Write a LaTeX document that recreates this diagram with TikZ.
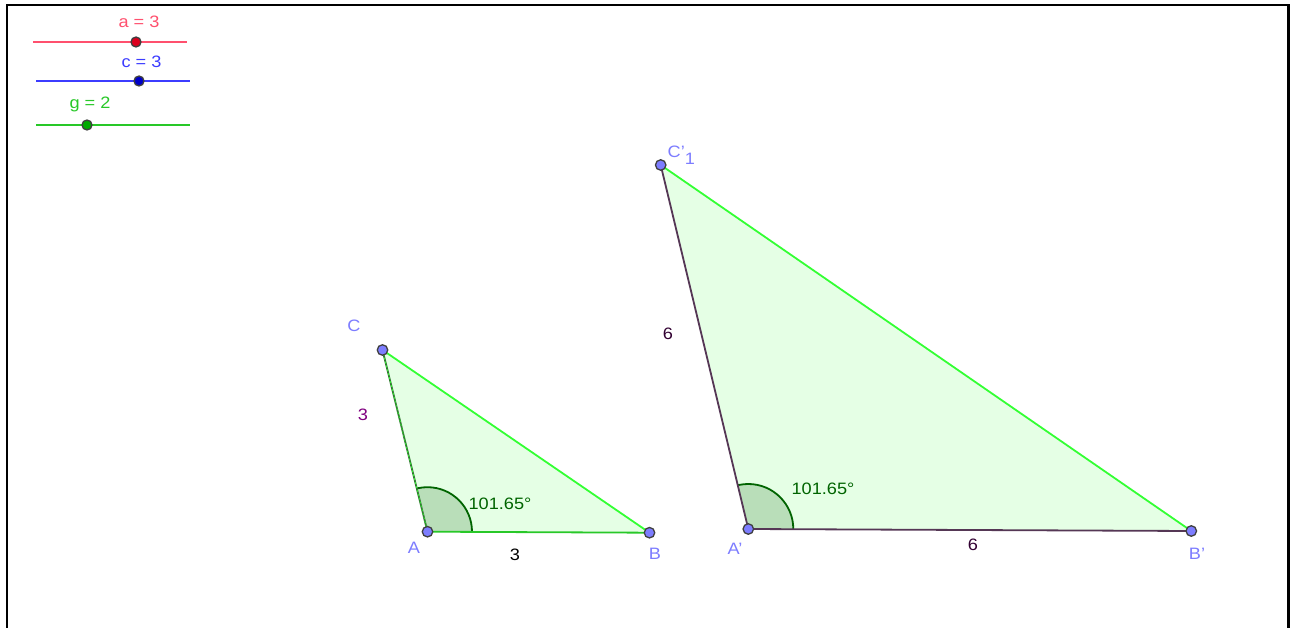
\documentclass[tikz,border=0pt]{standalone}
\usepackage{fontspec}
\setmainfont{Liberation Sans}[FakeStretch=1.1]
\definecolor{ptfill}{RGB}{125,125,255}
\definecolor{lbl}{RGB}{125,125,255}
\definecolor{trifill}{RGB}{229,255,229}
\definecolor{brightgreen}{RGB}{51,255,51}
\definecolor{midgreen}{RGB}{40,200,40}
\definecolor{darkgreenedge}{RGB}{50,120,50}
\definecolor{purpleedge}{RGB}{85,55,85}
\definecolor{sectorfill}{RGB}{185,222,185}
\definecolor{anglegreen}{RGB}{0,100,0}
\definecolor{slidered}{RGB}{255,80,110}
\definecolor{sliderredpt}{RGB}{220,0,30}
\definecolor{sliderblue}{RGB}{60,60,255}
\definecolor{sliderbluept}{RGB}{0,0,200}
\definecolor{slidergreen}{RGB}{40,200,40}
\definecolor{slidergreenpt}{RGB}{0,170,0}
\definecolor{labelpurple}{RGB}{128,0,128}
\definecolor{labeldark}{RGB}{50,0,50}
\begin{document}
\begin{tikzpicture}[x=1pt,y=-1pt,
  pt/.style={circle,inner sep=0pt,minimum size=10.5pt,fill=ptfill,draw=black!75,line width=1.3pt},
  spt/.style={circle,inner sep=0pt,minimum size=10pt,draw=black!75,line width=1.3pt},
  lab/.style={text=lbl,font=\fontsize{16.5}{18}\selectfont,inner sep=0pt},
  txt/.style={font=\fontsize{16.5}{18}\selectfont,inner sep=0pt},
  edge/.style={line width=1.8pt}]
\useasboundingbox (0,0) rectangle (1291,628);
\fill[white] (0,0) rectangle (1291,628);
% frame
\draw[line width=2.5pt] (7,628) -- (7,5) -- (1288.5,5) -- (1288.5,628);

% sliders
\coordinate (a1) at (33,42); \coordinate (a2) at (187,42);
\draw[slidered,line width=1.5pt] (a1) -- (a2);
\node[spt,fill=sliderredpt] (ap) at (136,42) {};
\node[txt,text=slidered] (al) at (139,22) {a = 3};

\coordinate (c1) at (36,81); \coordinate (c2) at (190,81);
\draw[sliderblue,line width=1.5pt] (c1) -- (c2);
\node[spt,fill=sliderbluept] (cp) at (139,81) {};
\node[txt,text=sliderblue] (cl) at (141.5,62) {c = 3};

\coordinate (g1) at (36,125); \coordinate (g2) at (190,125);
\draw[slidergreen,line width=1.5pt] (g1) -- (g2);
\node[spt,fill=slidergreenpt] (gp) at (87,125) {};
\node[txt,text=slidergreen] (gl) at (90,104) {g = 2};

% triangle 1
\coordinate (A) at (427.5,531.7);
\coordinate (B) at (649.5,532.7);
\coordinate (C) at (382.5,350);
\fill[trifill] (A) -- (B) -- (C) -- cycle;
\begin{scope}
  \clip (A) -- (B) -- (C) -- cycle;
  \fill[sectorfill] (A) circle (44.5);
  \draw[anglegreen,line width=1.8pt] (A) circle (44.5);
\end{scope}
\draw[edge,brightgreen] (B) -- (C);
\draw[edge,midgreen] (A) -- (B);
\draw[edge,darkgreenedge] (C) -- (A);
\draw[line width=0.7pt,brightgreen,dash pattern=on 2pt off 2pt] (C) -- (A);
\node[pt] (Ap) at (A) {};
\node[pt] (Bp) at (B) {};
\node[pt] (Cp) at (C) {};
\node[lab] (Al) at (414,548) {A};
\node[lab] (Bl) at (655,554) {B};
\node[lab] (Cl) at (354,326) {C};
\node[txt,text=labelpurple] (s1) at (363,415) {3};
\node[txt,text=black] (s2) at (515,555) {3};
\node[txt,text=anglegreen] (ang1) at (500,504) {101.65°};

% triangle 2
\coordinate (A2) at (748.3,529);
\coordinate (B2) at (1191.3,531);
\coordinate (C2) at (660.7,165);
\fill[trifill] (A2) -- (B2) -- (C2) -- cycle;
\begin{scope}
  \clip (A2) -- (B2) -- (C2) -- cycle;
  \fill[sectorfill] (A2) circle (45);
  \draw[anglegreen,line width=1.8pt] (A2) circle (45);
\end{scope}
\draw[edge,brightgreen] (B2) -- (C2);
\draw[edge,purpleedge] (A2) -- (B2);
\draw[edge,purpleedge] (C2) -- (A2);
\node[pt] (A2p) at (A2) {};
\node[pt] (B2p) at (B2) {};
\node[pt] (C2p) at (C2) {};
\node[lab] (A2l) at (735,549) {A'};
\node[lab] (B2l) at (1197,554) {B'};
\node[lab,anchor=base west] (C2l) at (667.5,158) {C'\raisebox{-6.5pt}{1}};
\node[txt,text=labeldark] (s3) at (668,334) {6};
\node[txt,text=labeldark] (s4) at (973,545) {6};
\node[txt,text=anglegreen] (ang2) at (823,489) {101.65°};
\end{tikzpicture}
\end{document}
